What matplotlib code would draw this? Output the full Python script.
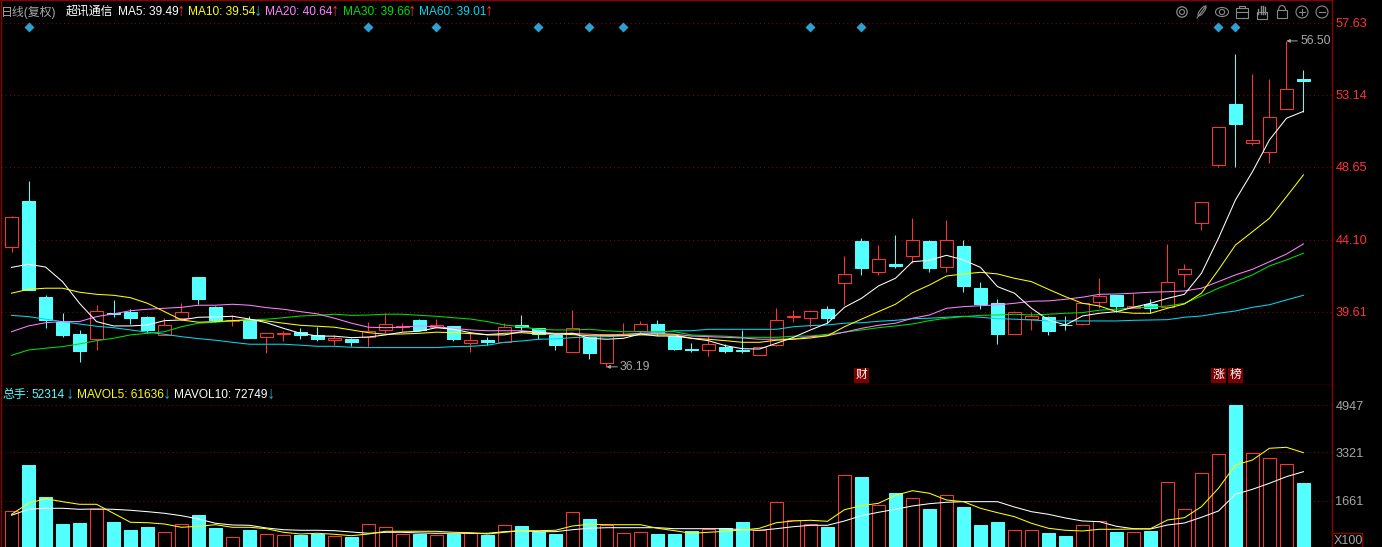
import matplotlib
matplotlib.use("Agg")
import matplotlib.pyplot as plt
from matplotlib.patches import Rectangle, Circle, Ellipse, Arc

plt.rcParams['font.family'] = ['Liberation Sans', 'Noto Sans CJK SC', 'DejaVu Sans']

# daily candles
opens = [43.68, 46.53, 40.54, 38.99, 38.24, 37.91, 39.53, 39.63, 39.30, 38.20, 39.25, 41.79, 39.92, 39.05, 39.11, 38.03,
         38.24, 38.35, 38.18, 37.88, 37.91, 38.03, 38.51, 38.69, 39.09, 38.69, 38.74, 37.66, 37.85, 37.76, 38.78, 38.59,
         38.18, 37.14, 38.03, 36.45, 38.18, 38.44, 38.86, 38.13, 37.29, 37.26, 37.43, 37.26, 36.95, 37.57, 39.31, 39.25,
         39.80, 41.40, 44.03, 42.12, 42.60, 43.08, 44.03, 42.39, 43.72, 41.11, 40.17, 38.26, 39.16, 39.28, 38.82, 38.88,
         40.25, 40.67, 39.88, 40.11, 39.94, 42.00, 45.17, 48.79, 52.57, 50.14, 49.60, 52.28, 54.11]
highs = [45.59, 47.77, 40.67, 39.53, 38.49, 40.05, 40.36, 39.78, 39.36, 39.22, 40.15, 41.79, 40.00, 39.40, 39.36, 38.28,
         38.41, 38.61, 38.69, 38.18, 38.01, 38.99, 39.53, 38.91, 39.17, 39.19, 38.74, 38.38, 38.05, 38.91, 39.42, 38.63,
         38.22, 39.73, 38.03, 38.22, 38.94, 39.05, 39.11, 38.13, 37.66, 38.11, 37.60, 38.49, 37.45, 39.86, 39.73, 39.72,
         39.97, 43.10, 44.22, 43.78, 44.41, 45.47, 44.10, 45.34, 44.10, 41.48, 40.42, 39.65, 39.61, 39.36, 39.36, 40.15,
         41.73, 40.67, 40.78, 40.42, 43.85, 42.60, 46.44, 51.12, 55.68, 54.44, 54.11, 56.50, 54.69]
lows = [43.37, 40.98, 38.63, 38.07, 36.51, 37.24, 39.32, 38.88, 38.32, 38.20, 39.25, 40.11, 38.99, 38.76, 38.01, 37.07,
        37.82, 37.95, 37.82, 37.57, 37.51, 37.45, 38.30, 38.44, 38.41, 38.59, 37.82, 37.14, 37.54, 37.76, 38.49, 37.91,
        37.24, 37.14, 36.68, 36.19, 38.18, 38.28, 38.18, 37.24, 37.14, 36.89, 37.07, 37.07, 36.91, 37.51, 39.01, 38.69,
        38.91, 40.05, 41.93, 41.93, 42.37, 42.64, 42.12, 42.12, 40.87, 39.80, 37.64, 38.26, 38.49, 38.18, 38.49, 38.80,
        39.84, 39.63, 39.88, 39.53, 39.94, 41.19, 44.72, 48.66, 48.66, 50.01, 48.91, 52.28, 52.09]
closes = [45.51, 40.98, 39.11, 38.18, 37.18, 39.65, 39.47, 39.25, 38.49, 38.78, 39.59, 40.44, 39.11, 39.11, 38.01, 38.28,
          38.30, 38.18, 37.95, 37.99, 37.74, 38.41, 38.84, 38.74, 38.51, 38.80, 37.93, 37.85, 37.76, 38.66, 38.69, 38.22,
          37.55, 38.59, 37.07, 38.22, 38.24, 38.84, 38.28, 37.30, 37.26, 37.60, 37.20, 37.20, 37.41, 39.09, 39.34, 39.65,
          39.25, 41.96, 42.37, 42.89, 42.49, 44.08, 42.37, 44.08, 41.23, 40.11, 38.26, 39.59, 39.38, 38.44, 38.80, 40.15,
          40.63, 40.00, 40.00, 39.84, 41.46, 42.27, 46.44, 51.12, 51.32, 50.31, 51.74, 53.48, 54.02]

ma5 = [42.39, 42.58, 42.41, 41.50, 40.15, 39.01, 38.74, 38.74, 38.80, 39.07, 39.11, 39.28, 39.30, 39.34, 39.17, 38.94,
       38.59, 38.28, 38.11, 38.10, 38.01, 38.05, 38.18, 38.35, 38.41, 38.63, 38.53, 38.32, 38.18, 38.18, 38.38, 38.35,
       38.22, 38.28, 37.97, 37.91, 37.97, 38.24, 38.11, 38.11, 37.97, 37.82, 37.51, 37.32, 37.30, 37.66, 38.03, 38.49,
       38.91, 39.90, 40.46, 41.23, 41.71, 42.74, 42.83, 43.14, 42.85, 42.39, 41.19, 40.78, 39.84, 39.11, 38.80, 39.36,
       39.53, 39.63, 39.90, 40.15, 40.46, 40.71, 42.02, 44.20, 46.59, 48.35, 50.33, 51.68, 52.11]
ma10 = [40.78, 41.02, 41.09, 41.09, 40.84, 40.71, 40.65, 40.50, 40.15, 39.63, 39.11, 38.97, 39.01, 39.07, 39.13, 39.05,
        38.91, 38.78, 38.72, 38.66, 38.49, 38.32, 38.22, 38.24, 38.28, 38.35, 38.32, 38.26, 38.20, 38.28, 38.32, 38.24,
        38.24, 38.20, 38.13, 38.13, 38.13, 38.18, 38.18, 38.18, 37.97, 37.91, 37.82, 37.72, 37.72, 37.85, 37.91, 37.99,
        38.13, 38.69, 39.16, 39.63, 40.09, 40.81, 41.29, 41.85, 41.98, 42.08, 41.98, 41.71, 41.50, 41.02, 40.56, 40.15,
        39.98, 39.63, 39.53, 39.53, 39.84, 40.11, 40.78, 42.23, 43.78, 44.61, 45.45, 46.79, 48.15]
ma20 = [38.38, 38.74, 38.94, 39.01, 39.01, 39.32, 39.49, 39.69, 39.78, 39.84, 39.90, 40.03, 40.03, 40.09, 40.03, 39.88,
        39.78, 39.63, 39.49, 39.22, 38.91, 38.66, 38.63, 38.66, 38.74, 38.69, 38.59, 38.49, 38.44, 38.44, 38.44, 38.35,
        38.28, 38.28, 38.22, 38.18, 38.22, 38.28, 38.28, 38.22, 38.11, 38.07, 38.03, 37.99, 37.91, 37.91, 37.93, 38.07,
        38.13, 38.35, 38.59, 38.78, 38.91, 39.22, 39.42, 39.84, 39.94, 40.00, 40.05, 40.15, 40.28, 40.30, 40.40, 40.53,
        40.71, 40.73, 40.78, 40.84, 40.87, 40.92, 41.09, 41.50, 41.92, 42.27, 42.74, 43.22, 43.85]
ma30 = [36.91, 37.24, 37.35, 37.45, 37.62, 37.82, 37.97, 38.18, 38.28, 38.38, 38.69, 38.91, 38.97, 39.05, 39.11, 39.16,
        39.25, 39.36, 39.40, 39.47, 39.40, 39.42, 39.47, 39.47, 39.40, 39.34, 39.25, 39.17, 39.01, 38.80, 38.69, 38.53,
        38.49, 38.49, 38.53, 38.44, 38.38, 38.38, 38.38, 38.38, 38.18, 38.13, 38.10, 38.03, 38.03, 38.03, 38.10, 38.11,
        38.22, 38.35, 38.49, 38.63, 38.74, 38.86, 39.07, 39.22, 39.32, 39.40, 39.42, 39.47, 39.42, 39.47, 39.53, 39.57,
        39.72, 39.78, 39.88, 39.90, 39.98, 40.15, 40.61, 41.09, 41.50, 41.92, 42.48, 42.85, 43.27]
ma60 = [39.40, 39.32, 39.16, 39.01, 38.86, 38.72, 38.63, 38.49, 38.35, 38.22, 38.07, 37.95, 37.85, 37.72, 37.60, 37.60,
        37.60, 37.54, 37.47, 37.47, 37.41, 37.39, 37.39, 37.39, 37.39, 37.39, 37.45, 37.47, 37.54, 37.72, 37.80, 37.91,
        37.93, 38.01, 38.05, 38.07, 38.13, 38.28, 38.32, 38.44, 38.44, 38.53, 38.53, 38.53, 38.53, 38.53, 38.69, 38.76,
        38.80, 38.91, 38.94, 39.03, 39.09, 39.19, 39.22, 39.28, 39.34, 39.28, 39.19, 39.16, 39.11, 39.05, 39.05, 39.05,
        39.05, 39.05, 39.09, 39.11, 39.13, 39.28, 39.36, 39.53, 39.67, 39.90, 40.06, 40.36, 40.65]

# volume in lots x100
volume = [1296, 2889, 1788, 859, 894, 1365, 928, 653, 756, 574, 849, 1169, 722, 402, 653, 505,
          471, 481, 515, 436, 412, 849, 746, 505, 515, 471, 515, 540, 481, 815, 791, 584,
          515, 1262, 1031, 825, 540, 574, 515, 515, 619, 687, 712, 928, 643, 1606, 987, 849,
          756, 2535, 2476, 1503, 1926, 1744, 1375, 1847, 1444, 825, 928, 643, 643, 550, 447, 815,
          952, 584, 574, 619, 2294, 1365, 2604, 3257, 4947, 3302, 3120, 2913, 2270]
mavol5 = [1193, 1572, 1730, 1627, 1537, 1537, 1228, 918, 904, 859, 746, 780, 835, 746, 746, 698,
          574, 515, 540, 505, 457, 515, 608, 608, 608, 608, 574, 560, 515, 574, 629, 629,
          643, 791, 849, 835, 835, 835, 712, 629, 540, 574, 608, 653, 712, 904, 963, 987,
          952, 1351, 1489, 1572, 1847, 2005, 1916, 1685, 1627, 1400, 1248, 1111, 884, 712, 643, 619,
          677, 677, 687, 698, 997, 1076, 1455, 2088, 2889, 3061, 3464, 3498, 3312]
mavol10 = [1159, 1365, 1400, 1400, 1365, 1375, 1365, 1331, 1283, 1228, 1145, 1031, 884, 825, 815, 722,
           663, 643, 643, 629, 584, 540, 574, 574, 550, 540, 540, 540, 540, 595, 629, 595,
           595, 663, 712, 732, 732, 732, 732, 698, 698, 698, 698, 663, 643, 698, 767, 815,
           815, 963, 1145, 1262, 1365, 1479, 1558, 1606, 1627, 1627, 1627, 1444, 1283, 1193, 1066, 963,
           939, 780, 698, 687, 825, 894, 1090, 1307, 1881, 2053, 2260, 2487, 2659]

price_ticks = [57.63, 53.14, 48.65, 44.10, 39.61]
volume_ticks = [4947, 3321, 1661]
# days with a blue diamond on top of the chart
flag_days = [1, 21, 25, 31, 34, 36, 47, 50, 71, 72]
badges = [(50, "财"), (71, "涨"), (72, "榜")]

W, H = 1382, 547
RED = "#ff3232"
CYAN = "#54ffff"
DARKRED = "#8c0000"
GREY = "#a8a8a8"
PINK = "#ff80ff"
GREEN = "#00e000"
LBLUE = "#00d8f0"
ARROW_BLUE = "#2fa8c8"
LW = 0.75     # snapped edges, one pixel
MA_LW = 0.75  # moving average lines

fig = plt.figure(figsize=(W / 100, H / 100), dpi=100, facecolor="black")
ax = fig.add_axes([1 / W, (H - 384.5) / H, 1331 / W, 384.5 / H], facecolor="black")
ax_vol = fig.add_axes([1 / W, 0, 1331 / W, (H - 384.5) / H], facecolor="black")
over = fig.add_axes([0, 0, 1, 1])
over.set_xlim(0, W)
over.set_ylim(H, 0)
over.axis("off")

days = list(range(len(opens)))

# candles
for d in days:
    o, h, l, c = opens[d], highs[d], lows[d], closes[d]
    up = c >= o
    col = RED if up else CYAN
    ax.plot([d, d], [l, h], color=col, lw=LW, zorder=2, solid_capstyle="butt", snap=True)
    ax.add_patch(Rectangle((d - 0.37, min(o, c)), 0.74, abs(c - o), facecolor="black" if up else col,
                           edgecolor=col, lw=LW, snap=True, zorder=3))

for vals, col in [(ma60, LBLUE), (ma30, GREEN), (ma20, PINK), (ma10, "#ffff00"), (ma5, "white")]:
    ax.plot(days, vals, color=col, lw=MA_LW, zorder=4)

ax.scatter(flag_days, [57.36] * len(flag_days), marker="D", s=26, color="#2f9fd0", linewidths=0, zorder=5)

for d, s in badges:
    ax.text(d, 35.67, s, color="white", fontsize=8.5, ha="center", va="center", zorder=6,
            bbox=dict(boxstyle="square,pad=0.12", fc="#7a0000", ec="none"))

# high / low markers
for d, v in [(75, highs[75]), (35, lows[35])]:
    ax.annotate("%.2f" % v, xy=(d, v), xytext=(d + 0.8, v), color=GREY, fontsize=8.8, va="center", zorder=6,
                arrowprops=dict(arrowstyle="-|>", color=GREY, lw=0.7, shrinkA=0, shrinkB=0, mutation_scale=5))

ax.set_xlim(-0.618, 77.68)
ax.set_ylim(35.09, 59.05)
ax.set_xticks([])
ax.set_yticks(price_ticks)
ax.set_yticklabels(["%.2f" % t for t in price_ticks])
ax.yaxis.tick_right()
ax.tick_params(axis="y", length=0, labelcolor=RED, labelsize=9.2, pad=2.5)
ax.grid(axis="y", color=DARKRED, linestyle=(0, (1, 3)), lw=0.75, zorder=1)

# volume
for d in days:
    up = closes[d] >= opens[d]
    col = RED if up else CYAN
    bars = ax_vol.bar(d, volume[d], width=0.74, facecolor="black" if up else col, edgecolor=col, lw=LW, zorder=2)
    bars[0].set_snap(True)
ax_vol.plot(days, mavol10, color="white", lw=MA_LW, zorder=4)
ax_vol.plot(days, mavol5, color="#ffff00", lw=MA_LW, zorder=4)

ax_vol.set_xlim(-0.618, 77.68)
ax_vol.set_ylim(68, 5658)
ax_vol.set_xticks([])
ax_vol.set_yticks(volume_ticks)
ax_vol.set_yticklabels([str(t) for t in volume_ticks])
ax_vol.yaxis.tick_right()
ax_vol.tick_params(axis="y", length=0, labelcolor=GREY, labelsize=9.2, pad=2.5)
ax_vol.grid(axis="y", color=DARKRED, linestyle=(0, (1, 3)), lw=0.75, zorder=1)

for a in (ax, ax_vol):
    for s in a.spines.values():
        s.set_color(DARKRED)
        s.set_linewidth(1.0)
ax_vol.spines["bottom"].set_visible(False)
ax.spines["bottom"].set_color("#b00000")
ax_vol.spines["top"].set_visible(False)


def label(x, y, s, col, ha="left", size=8.6):
    over.text(x, y, s, color=col, fontsize=size, ha=ha, va="center")


# header line
label(1, 12, "日线(复权)", GREY)
label(66, 12, "超讯通信", "white")
label(118, 12, "MA5: 39.49", "white")
label(181, 11, "↑", RED, "center", 12)
label(188, 12, "MA10: 39.54", "#ffff00")
label(257.5, 11, "↓", ARROW_BLUE, "center", 12)
label(265, 12, "MA20: 40.64", PINK)
label(335, 11, "↑", RED, "center", 12)
label(343, 12, "MA30: 39.66", GREEN)
label(412, 11, "↑", RED, "center", 12)
label(419, 12, "MA60: 39.01", LBLUE)
label(489, 11, "↑", RED, "center", 12)

# volume header
label(2, 395, "总手:", CYAN)
label(32, 395, "52314", CYAN)
label(70, 394, "↓", ARROW_BLUE, "center", 12)
label(77, 395, "MAVOL5: 61636", "#ffff00")
label(167, 394, "↓", ARROW_BLUE, "center", 12)
label(174, 395, "MAVOL10: 72749", "white")
label(271, 394, "↓", ARROW_BLUE, "center", 12)

# X100 box
over.add_patch(Rectangle((1332.5, 533), 30, 14, facecolor="black", edgecolor=DARKRED, lw=1))
label(1334, 540.5, "X100", GREY, size=9)

# toolbar icons
ic = "#8a8a8a"
over.add_patch(Circle((1182, 12), 2.5, fill=False, ec=ic, lw=0.8))
over.add_patch(Circle((1182, 12), 5.2, fill=False, ec=ic, lw=0.9))
over.plot([1197, 1206], [18, 6], color=ic, lw=0.8)
over.add_patch(Ellipse((1202, 11), 4, 12, angle=38, fill=False, ec=ic, lw=0.8))
over.add_patch(Ellipse((1222, 12), 13, 9, fill=False, ec=ic, lw=0.8))
over.add_patch(Circle((1222, 12), 2.6, fill=False, ec=ic, lw=0.8))
over.add_patch(Rectangle((1236, 8), 12, 10, fill=False, ec=ic, lw=0.8))
over.add_patch(Rectangle((1239, 5.5), 6, 2.5, fill=False, ec=ic, lw=0.8))
over.plot([1236, 1248], [12, 12], color=ic, lw=0.8)
for fx, ft in [(1258.5, 9), (1260.8, 6), (1263, 5.5), (1265.5, 7)]:
    over.plot([fx, fx], [ft, 14], color=ic, lw=1.0)
over.add_patch(Rectangle((1257, 12), 10, 6.5, fill=False, ec=ic, lw=0.8))
over.add_patch(Rectangle((1277, 10), 10, 8, fill=False, ec=ic, lw=0.8))
over.add_patch(Arc((1282, 10), 7, 9, theta1=180, theta2=360, ec=ic, lw=0.8))
over.add_patch(Circle((1302, 12), 6, fill=False, ec=ic, lw=0.8))
over.plot([1299, 1305], [12, 12], color=ic, lw=0.8)
over.plot([1302, 1302], [9, 15], color=ic, lw=0.8)
over.add_patch(Circle((1322, 12), 6, fill=False, ec=ic, lw=0.8))
over.plot([1319, 1325], [12, 12], color=ic, lw=0.8)

fig.savefig("out.png", dpi=100, facecolor="black")
